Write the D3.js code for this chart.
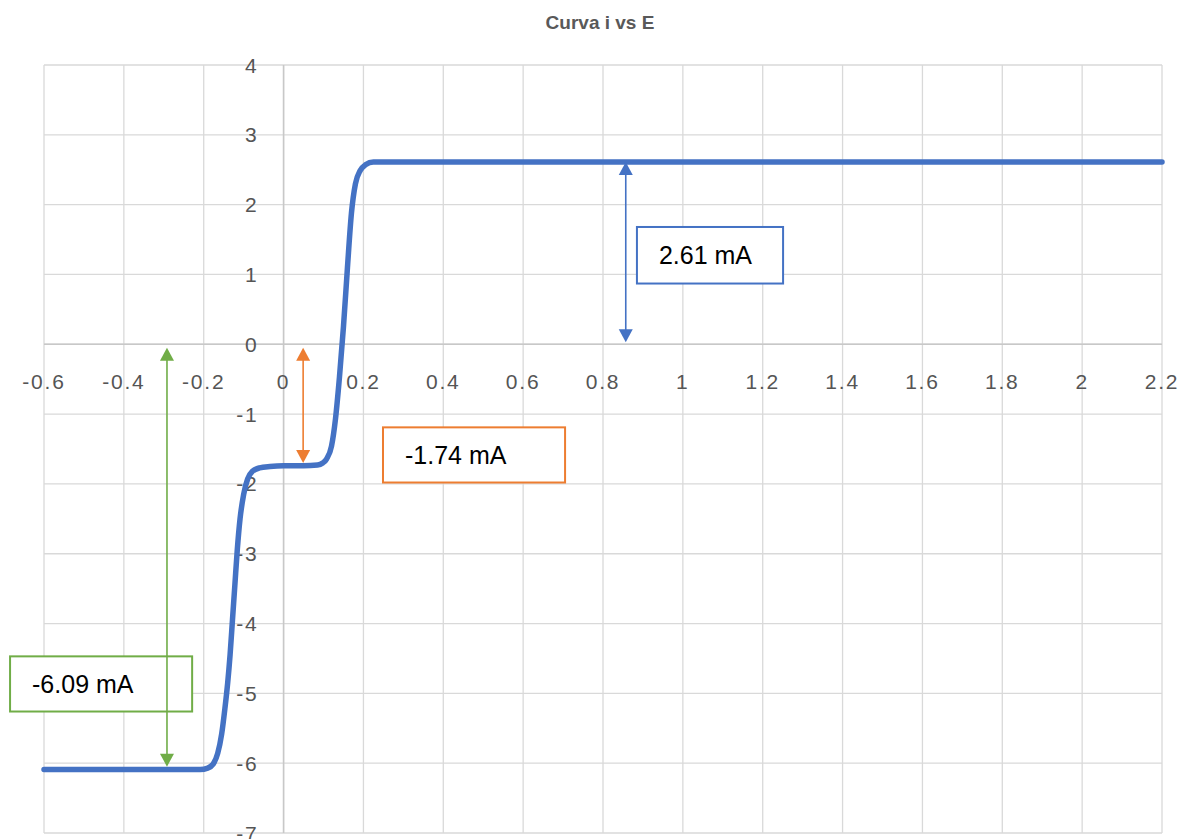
<!DOCTYPE html>
<html>
<head>
<meta charset="utf-8">
<script src="https://cdn.jsdelivr.net/npm/d3@7"></script>
<style>
html,body{margin:0;padding:0;background:#fff;}
svg{display:block;}
</style>
</head>
<body>
<svg id="chart" width="1182" height="839"></svg>
<script>
// ---- data ----
const title = "Curva i vs E";
const xTicks = [-0.6,-0.4,-0.2,0,0.2,0.4,0.6,0.8,1,1.2,1.4,1.6,1.8,2,2.2];
const yTicks = [4,3,2,1,0,-1,-2,-3,-4,-5,-6,-7];
const E = [-0.6,-0.4,-0.25,-0.209,-0.190,-0.176,-0.165,-0.155,-0.147,-0.140,-0.134,-0.128,-0.122,-0.116,-0.109,-0.100,-0.090,-0.078,-0.060,-0.034,0.0,0.05,0.085,0.098,0.108,0.120,0.130,0.140,0.150,0.160,0.170,0.180,0.192,0.205,0.225,0.26,0.4,0.8,1.2,1.6,2.0,2.2];
const I = [-6.09,-6.09,-6.09,-6.09,-6.07,-6.01,-5.86,-5.58,-5.22,-4.85,-4.45,-3.95,-3.45,-2.95,-2.50,-2.15,-1.93,-1.82,-1.77,-1.75,-1.74,-1.74,-1.73,-1.70,-1.64,-1.46,-1.07,-0.47,0.25,1.10,1.88,2.30,2.49,2.57,2.61,2.61,2.61,2.61,2.61,2.61,2.61,2.61];
// annotations: label, arrow x (E), arrow from/to (i), box corners (E,i), colour
const annLabels = ["2.61 mA","-1.74 mA","-6.09 mA"];
const annArrowE = [0.857,0.049,-0.292];
const annArrowFrom = [0.03,-0.05,-0.05];
const annArrowTo = [2.61,-1.70,-6.05];
const annBoxE0 = [0.885,0.249,-0.685];
const annBoxE1 = [1.251,0.705,-0.229];
const annBoxI0 = [1.68,-1.19,-4.47];
const annBoxI1 = [0.87,-1.98,-5.26];
const annColors = ["#4472C4","#ED7D31","#70AD47"];

const svg = d3.select("#chart");
const x = d3.scaleLinear().domain([-0.6,2.2]).range([44,1162]);
const y = d3.scaleLinear().domain([-7,4]).range([833,65]);

// gridlines
const g = svg.append("g");
g.selectAll("line.vg").data(xTicks).join("line")
  .attr("x1",d=>x(d)).attr("x2",d=>x(d)).attr("y1",y(4)).attr("y2",y(-7))
  .attr("stroke","#d9d9d9").attr("stroke-width",1.3);
g.selectAll("line.hg").data(yTicks).join("line")
  .attr("y1",d=>y(d)).attr("y2",d=>y(d)).attr("x1",x(-0.6)).attr("x2",x(2.2))
  .attr("stroke","#d9d9d9").attr("stroke-width",1.3);
// axes lines
g.append("line").attr("x1",x(0)).attr("x2",x(0)).attr("y1",y(4)).attr("y2",y(-7)).attr("stroke","#c8c8c8").attr("stroke-width",1.5);
g.append("line").attr("y1",y(0)).attr("y2",y(0)).attr("x1",x(-0.6)).attr("x2",x(2.2)).attr("stroke","#c8c8c8").attr("stroke-width",1.5);

// tick labels
const fmt = d => String(d);
svg.append("g").selectAll("text").data(xTicks).join("text")
  .attr("x",d=>x(d)).attr("y",y(0)+37).attr("text-anchor","middle").attr("dominant-baseline","central")
  .attr("font-family","Liberation Sans, Arial, sans-serif").attr("font-size",21).attr("letter-spacing",1.8)
  .attr("fill","#555555").text(fmt);
svg.append("g").selectAll("text").data(yTicks).join("text")
  .attr("x",x(0)-25).attr("y",d=>y(d)).attr("text-anchor","end").attr("dominant-baseline","central")
  .attr("font-family","Liberation Sans, Arial, sans-serif").attr("font-size",21).attr("letter-spacing",1.8)
  .attr("fill","#555555").text(fmt);

// title
svg.append("text").attr("x",600).attr("y",29).attr("text-anchor","middle")
  .attr("font-family","Liberation Sans, Arial, sans-serif").attr("font-weight","bold").attr("font-size",19)
  .attr("fill","#595959").text(title);

// curve
const pts = E.map((e,k)=>[e,I[k]]);
svg.append("path").datum(pts)
  .attr("d",d3.line().x(d=>x(d[0])).y(d=>y(d[1])).curve(d3.curveMonotoneX))
  .attr("fill","none").attr("stroke","#4472C4").attr("stroke-width",5.5).attr("stroke-linejoin","round").attr("stroke-linecap","round");

// annotations
annLabels.forEach((lab,k)=>{
  const c = annColors[k];
  const bx0 = x(annBoxE0[k]), bx1 = x(annBoxE1[k]);
  const by0 = y(annBoxI0[k]), by1 = y(annBoxI1[k]);
  svg.append("rect").attr("x",bx0).attr("y",by0).attr("width",bx1-bx0).attr("height",by1-by0)
    .attr("fill","#fff").attr("stroke",c).attr("stroke-width",2);
  svg.append("text").attr("x",bx0+22).attr("y",by0+(by1-by0)/2+9)
    .attr("font-family","Liberation Sans, Arial, sans-serif").attr("font-size",25).attr("fill","#000").text(lab);
  const ax = x(annArrowE[k]);
  const yA = y(annArrowFrom[k]), yB = y(annArrowTo[k]);
  const top = Math.min(yA,yB), bot = Math.max(yA,yB);
  const hl = 13, hw = 7;
  svg.append("line").attr("x1",ax).attr("x2",ax).attr("y1",top+hl-1).attr("y2",bot-hl+1)
    .attr("stroke",c).attr("stroke-width",1.6);
  svg.append("path").attr("d",`M${ax},${top} L${ax-hw},${top+hl} L${ax+hw},${top+hl} Z`).attr("fill",c);
  svg.append("path").attr("d",`M${ax},${bot} L${ax-hw},${bot-hl} L${ax+hw},${bot-hl} Z`).attr("fill",c);
});
</script>
</body>
</html>
